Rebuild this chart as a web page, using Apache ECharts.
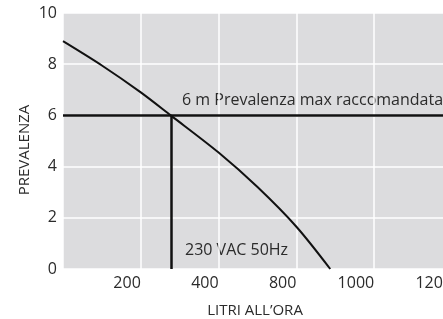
<!DOCTYPE html>
<html>
<head>
<meta charset="utf-8">
<script src="https://cdn.jsdelivr.net/npm/echarts@6/dist/echarts.min.js"></script>
<style>
  html, body { margin: 0; padding: 0; background: #fff; }
  #chart { width: 443px; height: 319px; }
</style>
</head>
<body>
<div id="chart"></div>
<script>
// portata (posizione sull'asse) e prevalenza della curva
const flow = [0, 100, 200, 277, 400, 500, 600, 687]
const head = [8.9, 7.95, 6.9, 6.0, 4.55, 3.2, 1.65, 0]
// etichette dell'asse x, una per ogni linea della griglia
const xTickLabels = ['0', '200', '400', '800', '1000', '1200']
const yTicks = [0, 2, 4, 6, 8, 10]
const maxHead = 6      // prevalenza max raccomandata
const workFlow = 277   // portata al punto di lavoro

const font = '"Open Sans", "Noto Sans", sans-serif'
const textColor = '#2b2b2b'

const myChart = echarts.init(document.getElementById('chart'))

const option = {
  animation: false,
  textStyle: { fontFamily: font },
  grid: {
    left: 63,
    top: 13,
    width: 389,
    height: 256,
    outerBoundsMode: 'none',
    show: true,
    backgroundColor: '#dcdcde',
    borderWidth: 0
  },
  xAxis: {
    type: 'value',
    min: 0,
    max: 1000,
    interval: 200,
    axisLine: { show: false },
    axisTick: { show: false },
    splitLine: { show: true, lineStyle: { color: '#ffffff', width: 1.5 } },
    axisLabel: {
      showMinLabel: false,
      align: 'right',
      margin: 6,
      color: textColor,
      fontSize: 16,
      fontFamily: font,
      formatter: (v) => xTickLabels[Math.round(v / 200)]
    }
  },
  yAxis: {
    type: 'value',
    min: yTicks[0],
    max: yTicks[yTicks.length - 1],
    interval: 2,
    axisLine: { show: false },
    axisTick: { show: false },
    splitLine: { show: true, lineStyle: { color: '#ffffff', width: 1.5 } },
    axisLabel: {
      margin: 6,
      color: textColor,
      fontSize: 16,
      fontFamily: font
    }
  },
  graphic: [
    {
      type: 'text',
      x: 25,
      y: 150,
      rotation: Math.PI / 2,
      style: {
        text: 'PREVALENZA',
        fill: textColor,
        font: '15px ' + font,
        align: 'center',
        verticalAlign: 'middle'
      }
    },
    {
      type: 'text',
      x: 255,
      y: 311,
      style: {
        text: 'LITRI ALL\u2019ORA',
        fill: textColor,
        font: '15px ' + font,
        align: 'center',
        verticalAlign: 'middle'
      }
    },
    {
      type: 'text',
      x: 182,
      y: 100,
      style: {
        text: '6 m Prevalenza max raccomandata',
        fill: textColor,
        font: '16px ' + font,
        align: 'left',
        verticalAlign: 'middle'
      }
    },
    {
      type: 'text',
      x: 185,
      y: 250,
      style: {
        text: '230 VAC 50Hz',
        fill: textColor,
        font: '16px ' + font,
        align: 'left',
        verticalAlign: 'middle'
      }
    }
  ],
  series: [
    {
      type: 'line',
      data: flow.map((x, i) => [x, head[i]]),
      smooth: 0.3,
      showSymbol: false,
      lineStyle: { color: '#111111', width: 2 },
      markLine: {
        silent: true,
        symbol: 'none',
        label: { show: false },
        lineStyle: { color: '#111111', width: 2.5, type: 'solid' },
        data: [
          { yAxis: maxHead },
          [{ coord: [workFlow, 0] }, { coord: [workFlow, maxHead] }]
        ]
      }
    }
  ]
}

myChart.setOption(option)
</script>
</body>
</html>
